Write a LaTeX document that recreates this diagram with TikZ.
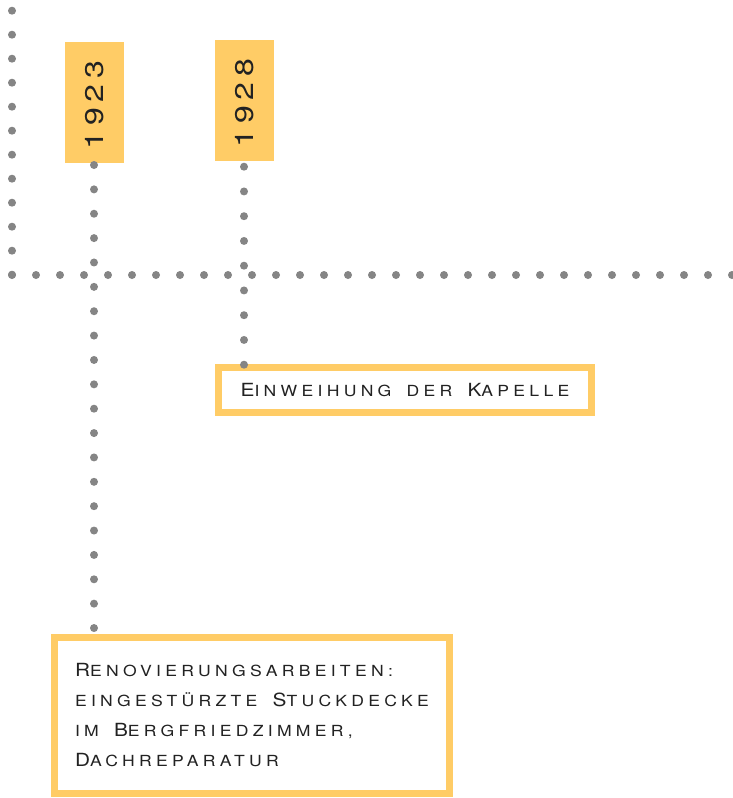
\documentclass[tikz,border=0pt]{standalone}
\usepackage{fontspec}
\newfontfamily\boxfont[LetterSpace=28,FakeStretch=1.15,WordSpace=1.4]{TeX Gyre Heros}
\newfontfamily\yearfont[LetterSpace=22,FakeStretch=1.25]{TeX Gyre Heros}
\newcommand\lc[1]{{\fontsize{15.3}{15.3}\selectfont\MakeUppercase{#1}}}
\definecolor{ochre}{HTML}{FFCC66}
\definecolor{dotgray}{HTML}{858585}
\definecolor{ink}{HTML}{222222}
\begin{document}
\begin{tikzpicture}[x=1pt,y=-1pt,
  yearbox/.style={fill=ochre,draw=none,minimum width=59pt,minimum height=121pt,inner sep=0pt,
    text=ink,font=\yearfont\fontsize{25.6}{25.6}\selectfont},
  eventbox/.style={draw=ochre,line width=7pt,fill=white,inner sep=0pt,text=ink,
    font=\boxfont\fontsize{18.1}{30}\selectfont},
  dotline/.style={draw=dotgray,line width=8pt,line cap=round,dash pattern=on 0pt off #1}]
\useasboundingbox (0,0) rectangle (733,798);
% timeline axes
\coordinate (vtop) at (12,10.7);
\coordinate (orig) at (12,275);
\coordinate (hend) at (733.5,275);
\draw[dotline=24pt] (vtop) -- (12,275.2);
\draw[dotline=24pt] (orig) -- (hend);
% year boxes
\node[yearbox] (y1923) at (94.5,102.5) {\rotatebox{90}{1923\hspace*{5pt}}};
\node[yearbox] (y1928) at (244.5,100.5) {\rotatebox{90}{1928\hspace*{5pt}}};
% event boxes
\node[eventbox,minimum width=373pt,minimum height=45pt] (e1928) at (405,390) {E\lc{inweihung} \lc{der} K\lc{apelle}};
\node[eventbox,minimum width=395pt,minimum height=156pt,align=left] (e1923) at (252,715.5)
  {R\lc{enovierungsarbeiten:}\\ \lc{eingestürzte} S\lc{tuckdecke}\\ \lc{im} B\lc{ergfriedzimmer,}\\ D\lc{achreparatur}};
% connectors
\coordinate (a1) at (94,165);
\coordinate (b1) at (94,628.5);
\coordinate (a2) at (244,166.7);
\coordinate (b2) at (244,365);
\draw[dotline=24.37pt] (a1) -- (b1);
\draw[dotline=24.75pt] (a2) -- (b2);
\end{tikzpicture}
\end{document}
